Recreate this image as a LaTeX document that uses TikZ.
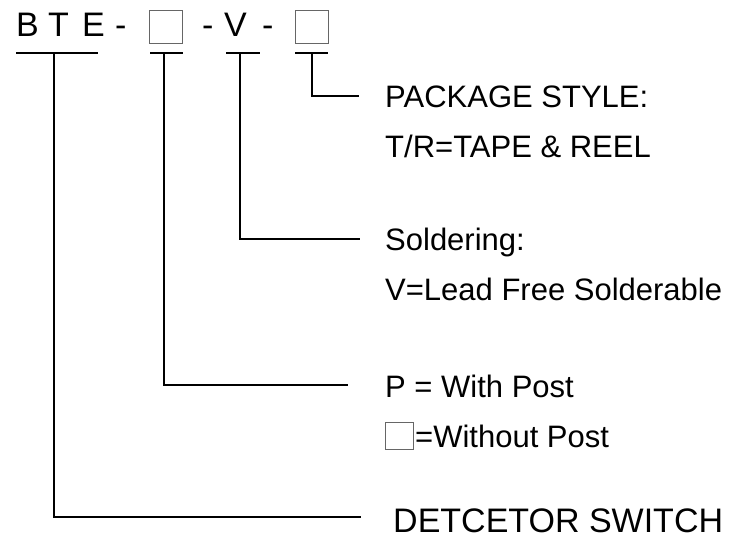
\documentclass[tikz,border=0pt]{standalone}
\usepackage{fontspec}
\setmainfont{Liberation Sans}
\begin{document}
\begin{tikzpicture}[x=1pt,y=-1pt,
  title/.style={inner sep=0pt,anchor=base west,font=\fontsize{34}{40}\selectfont},
  desc/.style={inner sep=0pt,anchor=base west,font=\fontsize{31}{36}\selectfont},
  big/.style={inner sep=0pt,anchor=base west,font=\fontsize{34}{40}\selectfont},
  lead/.style={line width=1.4pt,black},
  blank/.style={draw=black!60,line width=0.9pt}]
\useasboundingbox (0,0) rectangle (733,540);
% title
\node[title] (cB) at (16,37) {B};
\node[title] (cT) at (48,37) {T};
\node[title] (cE) at (82,37) {E};
\node[title] (d1) at (115,37) {-};
\draw[blank] (149,10) rectangle (182,43);
\node[title] (d2) at (202,37) {-};
\node[title] (cV) at (224,37) {V};
\node[title] (d3) at (262,37) {-};
\draw[blank] (295,10) rectangle (328,43);
% underlines
\draw[lead] (16,53) -- (98,53);
\draw[lead] (150,53) -- (183,53);
\draw[lead] (226,53) -- (260,53);
\draw[lead] (295,53) -- (328,53);
% descriptions
\node[desc] (pk1) at (385,108) {PACKAGE STYLE:};
\node[desc] (pk2) at (385,158) {T/R=TAPE \& REEL};
\node[desc] (so1) at (385,250) {Soldering:};
\node[desc] (so2) at (385,300) {V=Lead Free Solderable};
\node[desc] (po1) at (385,397) {P = With Post};
\draw[blank] (385,422) rectangle (413,449);
\node[desc] (po2) at (415,447) {=Without Post};
\node[big] (ds) at (393,532) {DETCETOR SWITCH};
% leader coordinates
\coordinate (a0) at (312,53); \coordinate (a1) at (359,96);
\coordinate (b0) at (240,53); \coordinate (b1) at (360,239);
\coordinate (c0) at (164,53); \coordinate (c1) at (348,385);
\coordinate (e0) at (54,53);  \coordinate (e1) at (361,517);
\draw[lead] (a0) |- (a1);
\draw[lead] (b0) |- (b1);
\draw[lead] (c0) |- (c1);
\draw[lead] (e0) |- (e1);
\end{tikzpicture}
\end{document}
